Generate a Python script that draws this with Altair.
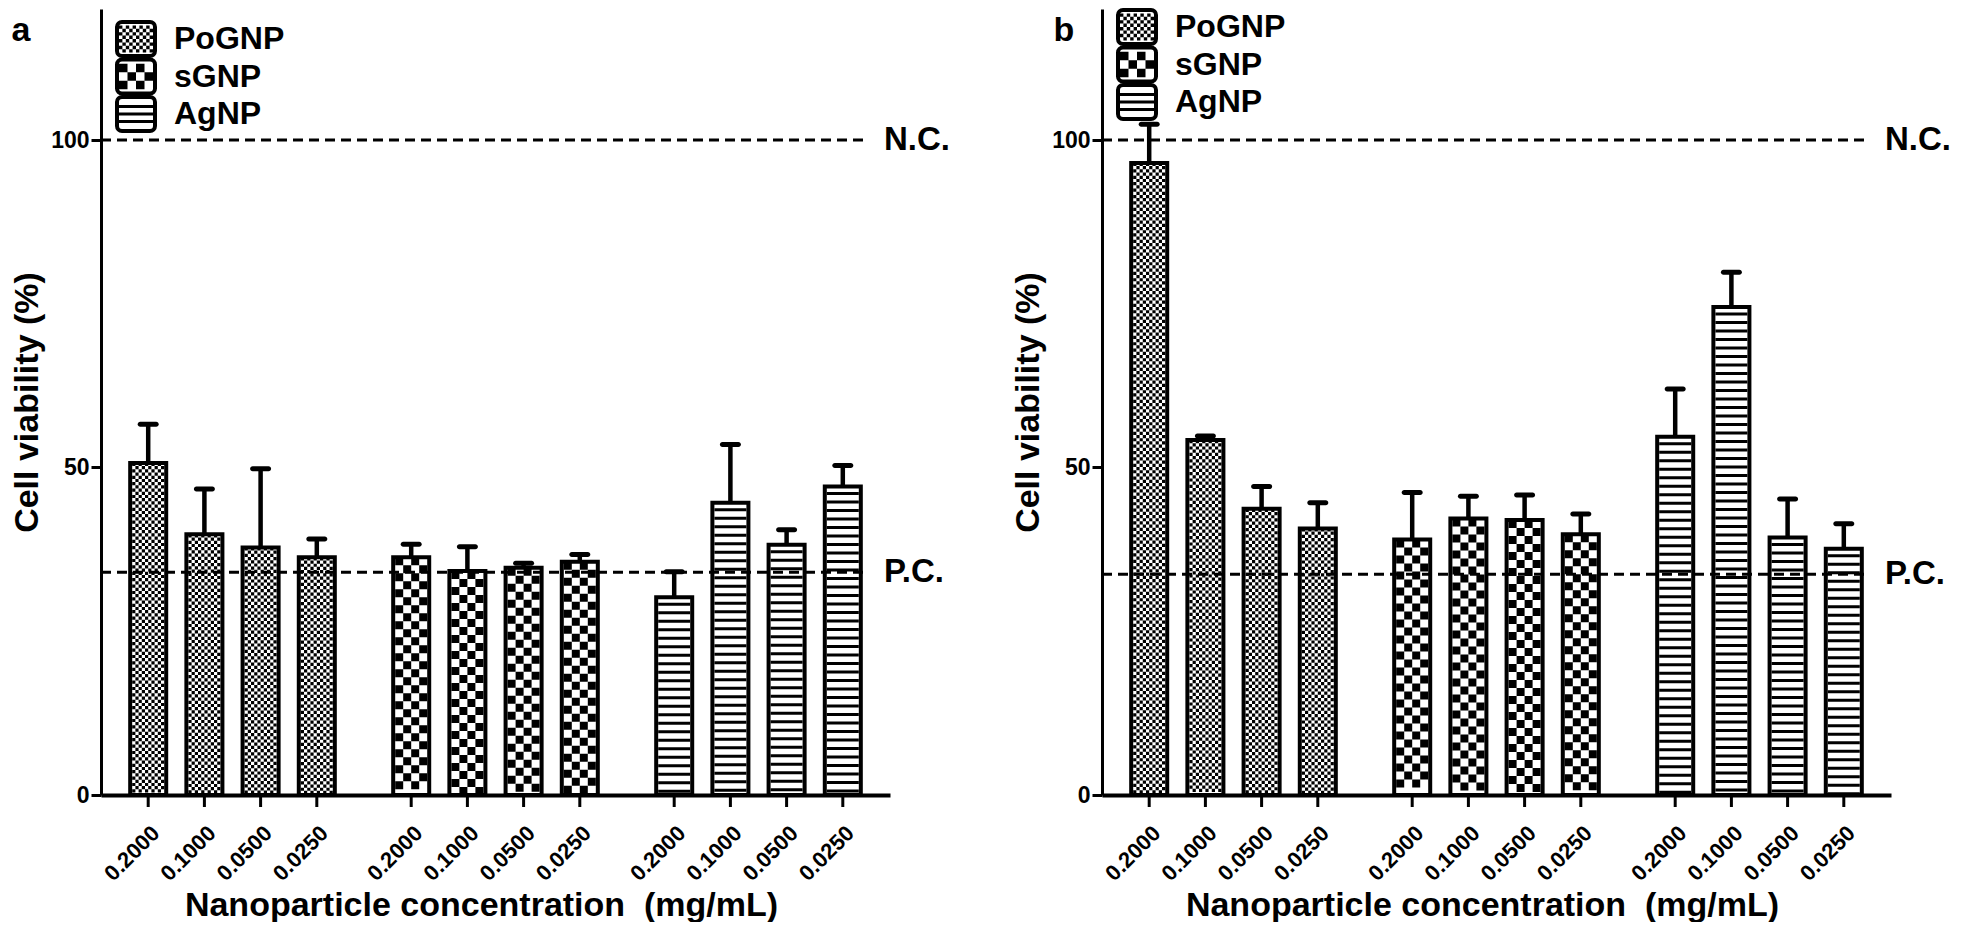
import altair as alt
import pandas as pd

FONT = "Liberation Sans"

# ---------------- data ----------------
groups = ["PoGNP", "sGNP", "AgNP"]
concs = ["0.2000", "0.1000", "0.0500", "0.0250"]
panel_letters = ["a", "b"]
ref_labels = ["N.C.", "P.C."]
y_ticks = [0, 50, 100]

# panel a
a_pognp_mean = [50.7, 39.8, 37.8, 36.3]
a_pognp_err = [5.9, 6.9, 12.0, 2.8]
a_sgnp_mean = [36.3, 34.2, 34.7, 35.6]
a_sgnp_err = [2.0, 3.7, 0.7, 1.1]
a_agnp_mean = [30.2, 44.6, 38.2, 47.1]
a_agnp_err = [3.9, 8.9, 2.3, 3.2]
a_ref_values = [100, 34.0]

# panel b
b_pognp_mean = [96.5, 54.2, 43.7, 40.7]
b_pognp_err = [5.9, 0.6, 3.4, 3.9]
b_sgnp_mean = [39.0, 42.2, 42.0, 39.8]
b_sgnp_err = [7.2, 3.4, 3.8, 3.1]
b_agnp_mean = [54.7, 74.5, 39.3, 37.6]
b_agnp_err = [7.3, 5.3, 5.9, 3.8]
b_ref_values = [100, 33.7]

# ---------------- layout / style ----------------
W = 789
H = 786
YMAX = 120
PPU = H / YMAX
INNER = 32          # inner (white) width of a bar, px
FINE = 3.2          # PoGNP checker cell, px
COARSE = 8.0        # sGNP checker cell, px

YS = alt.Scale(domain=[0, YMAX], nice=False, zero=True)
XS = alt.Scale(domain=groups, paddingInner=0.145, paddingOuter=0.0725)
XOS = alt.Scale(domain=concs, paddingInner=0.359, paddingOuter=0.18)

x_axis = alt.Axis(labels=False, ticks=False, domainWidth=4, domainColor="black",
                  grid=False,
                  title="Nanoparticle concentration \u00a0(mg/mL)", titleFont=FONT,
                  titleFontSize=34, titleFontWeight="bold", titleColor="black",
                  titleX=380, titleY=120, titleAlign="center", titleBaseline="alphabetic")
y_axis = alt.Axis(values=y_ticks, tickSize=10, tickWidth=3, tickColor="black",
                  domainWidth=3, domainColor="black", grid=False,
                  labelFont=FONT, labelFontSize=23, labelFontWeight="bold",
                  labelColor="black", labelPadding=2,
                  title="Cell viability (%)", titleFont=FONT, titleFontSize=34,
                  titleFontWeight="bold", titleColor="black", titleAngle=270,
                  titleX=-74, titleY=H / 2, titleAlign="center", titleBaseline="middle")


def X():
    return alt.X("group:N", sort=groups, scale=XS, axis=x_axis)


def XO():
    return alt.XOffset("conc:N", sort=concs, scale=XOS)


def Yf(field):
    return alt.Y(field, scale=YS, axis=y_axis)


def Yd(value):
    return alt.Y(datum=value, scale=YS, axis=y_axis)


def sq(x0, y0, w, h):
    return f"M{x0:.4f},{y0:.4f}h{w:.4f}v{h:.4f}h{-w:.4f}Z"


def row_path(cell, side, parity):
    u = 2.0 / side
    n = int(round(side / cell))
    return "".join(sq(-1 + c * cell * u, -cell * u / 2, cell * u, cell * u)
                   for c in range(n) if c % 2 == parity)


def checker_path(cell, side, ncols, nrows):
    u = 2.0 / side
    x0 = -ncols * cell / 2
    y0 = -nrows * cell / 2
    return "".join(sq((x0 + c * cell) * u, (y0 + r * cell) * u, cell * u, cell * u)
                   for r in range(nrows) for c in range(ncols) if (r + c) % 2 == 0)


def stripe_path(side, offsets, thick):
    u = 2.0 / side
    return "".join(sq(-1, (o - thick / 2) * u, 2, thick * u) for o in offsets)


def panel_df(means, errs):
    rows = []
    for g, ml, el in zip(groups, means, errs):
        for c, m, e in zip(concs, ml, el):
            rows.append({"group": g, "conc": c, "mean": m, "err": e})
    return pd.DataFrame(rows)


def checker_layers(df, group, cell):
    ch = cell / PPU
    out = []
    for parity in (0, 1):
        start = (0.5 + parity) * ch
        expr = f"sequence(datum.mean - {start:.5f}, {ch / 2 - 0.001:.5f}, {-2 * ch:.5f})"
        out.append(
            alt.Chart(df)
            .transform_filter(alt.datum.group == group)
            .transform_calculate(rows=expr)
            .transform_flatten(["rows"])
            .mark_point(shape=row_path(cell, INNER, parity), filled=True,
                        size=INNER * INNER, color="black", opacity=1, strokeWidth=0)
            .encode(x=X(), xOffset=XO(), y=Yf("rows:Q"))
        )
    return out


def legend_layers(top, step, xl):
    paths = [
        checker_path(3.4, 34, 10, 8),
        checker_path(8.5, 34, 4, 3),
        stripe_path(34, [-7.5, 0, 7.5], 3),
    ]
    out = []
    for i, name in enumerate(groups):
        y0 = top + i * step
        y1 = y0 + 34
        yc = (y0 + y1) / 2
        d = pd.DataFrame({"name": [name]})
        out.append(alt.Chart(d).mark_rect(fill="white", stroke="black", strokeWidth=4,
                                          cornerRadius=5)
                   .encode(x=alt.value(xl), x2=alt.value(xl + 38),
                           y=alt.value(y0), y2=alt.value(y1)))
        out.append(alt.Chart(d).mark_point(shape=paths[i], filled=True, size=34 * 34,
                                           color="black", opacity=1, strokeWidth=0)
                   .encode(x=alt.value(xl + 19), y=alt.value(yc)))
        out.append(alt.Chart(d).mark_text(align="left", baseline="middle", font=FONT,
                                          fontSize=32, fontWeight="bold", color="black")
                   .encode(x=alt.value(xl + 57), y=alt.value(yc), text="name:N"))
    return out


def make_panel(means, errs, refs, letter, letter_x, legend_top):
    df = panel_df(means, errs)
    refdf = pd.DataFrame({"label": ref_labels, "value": refs})

    bars = alt.Chart(df).mark_bar(fill="white", stroke="black", strokeWidth=4,
                                  opacity=1).encode(
        x=X(), xOffset=XO(), y=Yf("mean:Q"))

    pog = checker_layers(df, "PoGNP", FINE)
    sg = checker_layers(df, "sGNP", COARSE)
    ag = (alt.Chart(df).transform_filter(alt.datum.group == "AgNP")
          .mark_rule(strokeWidth=INNER, strokeDash=[3, 5.5], strokeDashOffset=3,
                     color="black")
          .encode(x=X(), xOffset=XO(), y=Yf("mean:Q"), y2=alt.Y2(datum=0)))

    ref_rule = alt.Chart(refdf).mark_rule(strokeDash=[10, 6], strokeWidth=3,
                                          color="black").encode(
        y=Yf("value:Q"), x=alt.value(0), x2=alt.value(W - 26))
    ref_text = alt.Chart(refdf).mark_text(align="left", baseline="middle", font=FONT,
                                          fontSize=33, fontWeight="bold",
                                          color="black").encode(
        y=Yf("value:Q"), x=alt.value(W - 6), text="label:N")

    eb = alt.Chart(df).transform_calculate(upper="datum.mean + datum.err")
    err_rule = eb.mark_rule(strokeWidth=4.5, color="black").encode(
        x=X(), xOffset=XO(), y=Yf("mean:Q"), y2="upper:Q")
    err_cap = eb.mark_tick(orient="horizontal", size=21, thickness=5, cornerRadius=2.5,
                           color="black", opacity=1).encode(
        x=X(), xOffset=XO(), y=Yf("upper:Q"))

    xticks = alt.Chart(df).mark_tick(orient="vertical", size=10, thickness=3, yOffset=7,
                                     color="black", opacity=1).encode(
        x=X(), xOffset=XO(), y=Yd(0))
    xlabels = alt.Chart(df).mark_text(angle=315, align="right", baseline="middle",
                                      dx=-19, dy=30, font=FONT, fontSize=22,
                                      fontWeight="bold", color="black").encode(
        x=X(), xOffset=XO(), y=Yd(0), text="conc:N")

    letter_layer = alt.Chart(pd.DataFrame({"t": [letter]})).mark_text(
        align="center", baseline="alphabetic", font=FONT, fontSize=34,
        fontWeight="bold", color="black").encode(
        x=alt.value(letter_x), y=alt.value(32), text="t:N")

    layers = [bars] + pog + sg + [ag, ref_rule, ref_text, err_rule, err_cap,
                                  xticks, xlabels, letter_layer] + \
        legend_layers(legend_top, 37.5, 16)
    return alt.layer(*layers).properties(width=W, height=H)


panel_a = make_panel([a_pognp_mean, a_sgnp_mean, a_agnp_mean],
                     [a_pognp_err, a_sgnp_err, a_agnp_err],
                     a_ref_values, panel_letters[0], -80, 13)
panel_b = make_panel([b_pognp_mean, b_sgnp_mean, b_agnp_mean],
                     [b_pognp_err, b_sgnp_err, b_agnp_err],
                     b_ref_values, panel_letters[1], -38, 1)

chart = (alt.hconcat(panel_a, panel_b, spacing=212, bounds="flush")
         .properties(padding={"left": 2, "top": 0, "right": 0, "bottom": 0})
         .configure(font=FONT)
         .configure_view(stroke=None))

chart.save("out.html", embed_options={"renderer": "svg", "actions": False})
